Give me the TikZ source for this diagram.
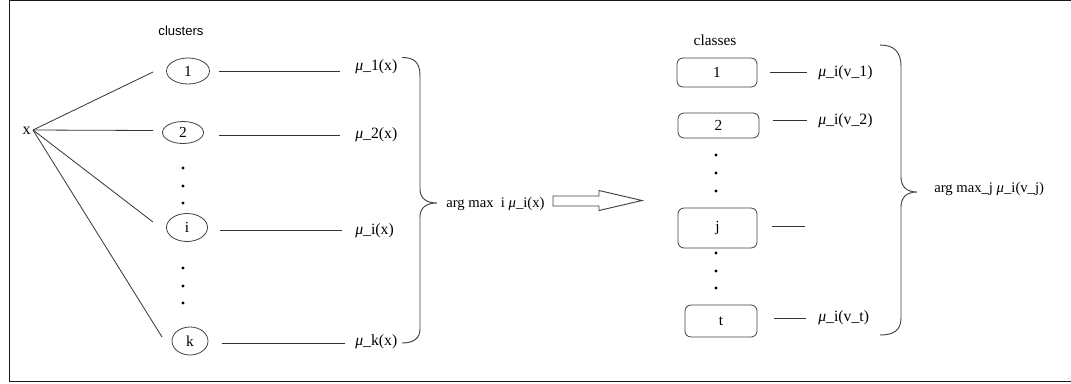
\documentclass[tikz,border=0pt]{standalone}
\usepackage{fontspec}
\setmainfont{Liberation Serif}
\newfontfamily\sansf{Liberation Sans}
\usetikzlibrary{calc,shapes.geometric}
\begin{document}
\begin{tikzpicture}[x=0.75pt,y=-0.75pt,
  conn/.style={draw=black!80, line width=0.6pt},
  clu/.style={ellipse, draw=black!75, line width=0.6pt, inner sep=0pt, font=\fontsize{11.5}{13}\selectfont},
  cls/.style={rectangle, rounded corners=4.5pt, draw=black!75, line width=0.6pt, inner sep=0pt, font=\fontsize{11.5}{13}\selectfont},
  lab/.style={anchor=base west, inner sep=0pt, font=\fontsize{11.8}{13}\selectfont},
  brace/.style={draw=black!75, line width=0.7pt},
  dotm/.style={circle, fill=black, inner sep=0pt, minimum size=2.4pt},
  frame/.style={draw=black!90, line width=1.1pt}]
\useasboundingbox (0,0) rectangle (1071,383);
% frame
\draw[frame] (1071,0.75) -- (9.5,0.75) -- (9.5,381.3) -- (1071,381.3);

% left part
\node[anchor=base, inner sep=0pt, font=\sansf\fontsize{9.8}{11}\selectfont] (clusters) at (181,35) {clusters};
\node[anchor=base east, inner sep=0pt, font=\fontsize{12}{13}\selectfont] (x) at (31,134) {x};
\coordinate (xc) at (33,130);

\node[clu, minimum width=32.25pt, minimum height=19.5pt] (e1) at (188,71) {1};
\node[clu, minimum width=30.75pt, minimum height=16.5pt] (e2) at (183,132.5) {2};
\node[clu, minimum width=30.75pt, minimum height=21pt] (ei) at (187,227.5) {i};
\node[clu, minimum width=27pt, minimum height=21pt] (ek) at (190,341) {k};

\coordinate (a1) at (153,72);
\coordinate (a2) at (153,130.5);
\coordinate (a3) at (153,222);
\coordinate (a4) at (162,337);
\draw[conn] (xc) -- (a1);
\draw[conn] (xc) -- (a2);
\draw[conn] (xc) -- (a3);
\draw[conn] (xc) -- (a4);

\foreach \yy/\nm in {168/d1,186/d2,203/d3,268/d4,286/d5,303/d6}
  \node[dotm] (\nm) at (183,\yy) {};

\node[lab] (l1) at (355,70) {\textit{μ}\_1(x)};
\node[lab] (l2) at (355,138) {\textit{μ}\_2(x)};
\node[lab] (li) at (355,234) {\textit{μ}\_i(x)};
\node[lab] (lk) at (355,345) {\textit{μ}\_k(x)};

\draw[conn] ($(e1.east)+(9,0)$) -- ++(121,0);
\draw[conn] ($(e2.east)+(15,3)$) -- ++(121,0);
\draw[conn] ($(ei.east)+(12,2.5)$) -- ++(122,0);
\draw[conn] ($(ek.east)+(14,2)$) -- ++(123,0);

% left brace
\draw[brace] (402,57.5) .. controls (414,57.5) and (420,62) .. (420,76)
  -- (420,189) .. controls (420,198) and (426,203) .. (437,203)
  .. controls (426,203) and (420,208) .. (420,217)
  -- (420,329) .. controls (420,338) and (414,343) .. (402,343);

\node[lab, font=\fontsize{11}{13}\selectfont] (am1) at (446,207) {arg max\ \ i \textit{μ}\_i(x)};

% block arrow
\draw[draw=black!75, line width=0.7pt] (553,196) -- (599,196) -- (599,190.5) -- (642,200.5)
  -- (599,210.5) -- (599,206) -- (553,206) -- cycle;

% right part
\node[anchor=base, inner sep=0pt, font=\fontsize{11.5}{13}\selectfont] (classes) at (715,45) {classes};
\node[cls, minimum width=60pt, minimum height=21.75pt] (b1) at (717,72.5) {1};
\node[cls, minimum width=60.75pt, minimum height=18.75pt] (b2) at (718.5,125.5) {2};
\node[cls, minimum width=59.25pt, minimum height=30pt] (bj) at (717.5,228) {j};
\node[cls, minimum width=54pt, minimum height=24pt] (bt) at (721,321) {t};

\foreach \yy/\nm in {155/f1,173/f2,191/f3,253/f4,271/f5,288/f6}
  \node[dotm] (\nm) at (716,\yy) {};

\node[lab] (r1) at (818,76) {\textit{μ}\_i(v\_1)};
\node[lab] (r2) at (818,124) {\textit{μ}\_i(v\_2)};
\node[lab] (rt) at (818,321) {\textit{μ}\_i(v\_t)};

\draw[conn] ($(b1.east)+(13,-0.5)$) -- ++(37,0);
\draw[conn] ($(b2.east)+(14,-5.5)$) -- ++(34,0);
\draw[conn] ($(bj.east)+(14.5,-2)$) -- ++(33,0);
\draw[conn] ($(bt.east)+(17,-3)$) -- ++(32,0);

% right brace
\draw[brace] (880,45) .. controls (894,45) and (901,52) .. (901,66)
  -- (901,177) .. controls (901,186) and (906,192) .. (917,192)
  .. controls (906,192) and (901,198) .. (901,207)
  -- (901,318) .. controls (901,330) and (894,335) .. (880,335);

\node[lab, font=\fontsize{11}{13}\selectfont] (am2) at (934,192) {arg max\_j \textit{μ}\_i(v\_j)};
\end{tikzpicture}
\end{document}
